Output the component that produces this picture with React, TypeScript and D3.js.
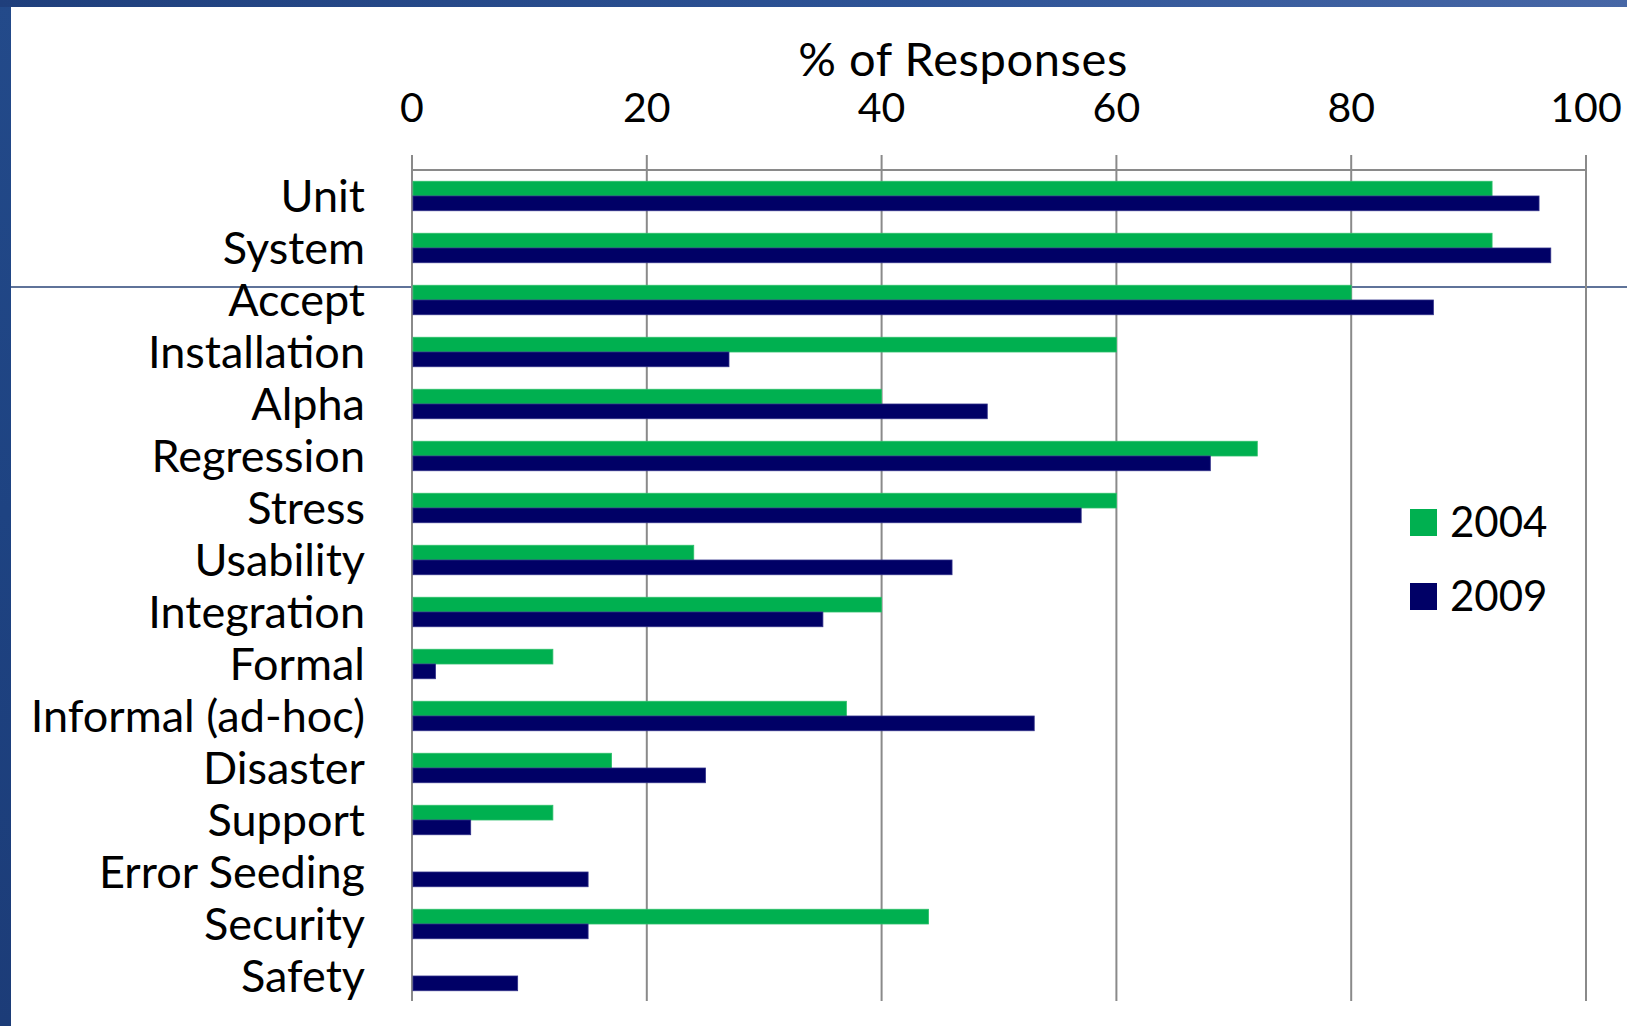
import React from "react";
import * as d3 from "d3";

// Survey: share of respondents using each kind of testing, 2004 vs 2009
const categories = [
  "Unit",
  "System",
  "Accept",
  "Installation",
  "Alpha",
  "Regression",
  "Stress",
  "Usability",
  "Integration",
  "Formal",
  "Informal (ad-hoc)",
  "Disaster",
  "Support",
  "Error Seeding",
  "Security",
  "Safety",
];
const values2004 = [92, 92, 80, 60, 40, 72, 60, 24, 40, 12, 37, 17, 12, 0, 44, 0];
const values2009 = [96, 97, 87, 27, 49, 68, 57, 46, 35, 2, 53, 25, 5, 15, 15, 9];
const seriesNames = ["2004", "2009"];
const seriesColors = ["#00B050", "#000066"];
const xTicks = [0, 20, 40, 60, 80, 100];

const W = 1627;
const H = 1026;
const FONT = "Lato, 'Open Sans', sans-serif";

export default function App() {
  const x = d3.scaleLinear().domain([0, 100]).range([412, 1586]);
  const y = d3
    .scaleBand<string>()
    .domain(categories)
    .range([170, 1002])
    .paddingInner(0.433)
    .paddingOuter(0.2165);
  const inner = d3
    .scaleBand<string>()
    .domain(seriesNames)
    .range([0, y.bandwidth()])
    .padding(0);

  const series = [values2004, values2009];
  const gridTop = 155;
  const gridBottom = 1001;

  return (
    <svg
      width={W}
      height={H}
      style={{ position: "absolute", left: 0, top: 0 }}
      fontFamily={FONT}
    >
      <defs>
        <linearGradient id="frameTop" x1="0" x2="1" y1="0" y2="0">
          <stop offset="0" stopColor="#1F3F7C" />
          <stop offset="0.55" stopColor="#2D5396" />
          <stop offset="1" stopColor="#4767A6" />
        </linearGradient>
        <linearGradient id="frameLeft" x1="0" x2="0" y1="0" y2="1">
          <stop offset="0" stopColor="#234A8A" />
          <stop offset="0.5" stopColor="#1E4382" />
          <stop offset="1" stopColor="#1C3C78" />
        </linearGradient>
      </defs>

      {/* slide frame */}
      <rect x={0} y={0} width={W} height={H} fill="url(#frameLeft)" />
      <rect x={0} y={0} width={W} height={7} fill="url(#frameTop)" />
      <rect x={11} y={7} width={W - 11} height={H - 7} fill="#FFFFFF" />
      <line x1={11} x2={W} y1={287} y2={287} stroke="#2A4577" strokeWidth={1.5} />

      {/* vertical gridlines */}
      {xTicks.map((t) => (
        <line
          key={`g${t}`}
          x1={x(t)}
          x2={x(t)}
          y1={gridTop}
          y2={gridBottom}
          stroke="#8A8A8A"
          strokeWidth={2}
        />
      ))}
      {/* top axis line */}
      <line x1={x(0)} x2={x(100)} y1={170} y2={170} stroke="#8A8A8A" strokeWidth={2} />

      {/* bars */}
      {categories.map((c, i) => (
        <g key={c}>
          {series.map((vals, s) =>
            vals[i] > 0 ? (
              <rect
                key={s}
                x={x(0) + 1}
                y={(y(c) ?? 0) + (inner(seriesNames[s]) ?? 0)}
                width={x(vals[i]) - x(0) - 1}
                height={inner.bandwidth()}
                fill={seriesColors[s]}
                stroke={s === 1 ? "#2F2F88" : "#2CBF6A"}
                strokeWidth={0.8}
              />
            ) : null
          )}
        </g>
      ))}

      {/* category labels */}
      {categories.map((c) => (
        <text
          key={`l${c}`}
          x={365}
          y={(y(c) ?? 0) + y.bandwidth() / 2}
          dy="0.36em"
          textAnchor="end"
          fontSize={45}
          fill="#000"
        >
          {c}
        </text>
      ))}

      {/* tick labels */}
      {xTicks.map((t) => (
        <text
          key={`t${t}`}
          x={x(t)}
          y={122}
          textAnchor="middle"
          fontSize={41}
          fill="#000"
        >
          {t}
        </text>
      ))}

      {/* axis title */}
      <text
        x={963}
        y={76}
        textAnchor="middle"
        fontSize={47}
        letterSpacing={0.6}
        fill="#000"
      >
        % of Responses
      </text>

      {/* legend */}
      {seriesNames.map((n, s) => (
        <g key={`lg${n}`} transform={`translate(1410, ${509 + s * 74})`}>
          <rect x={0} y={0} width={27} height={27} fill={seriesColors[s]} />
          <text x={40} y={28} fontSize={42} fill="#000">
            {n}
          </text>
        </g>
      ))}
    </svg>
  );
}
